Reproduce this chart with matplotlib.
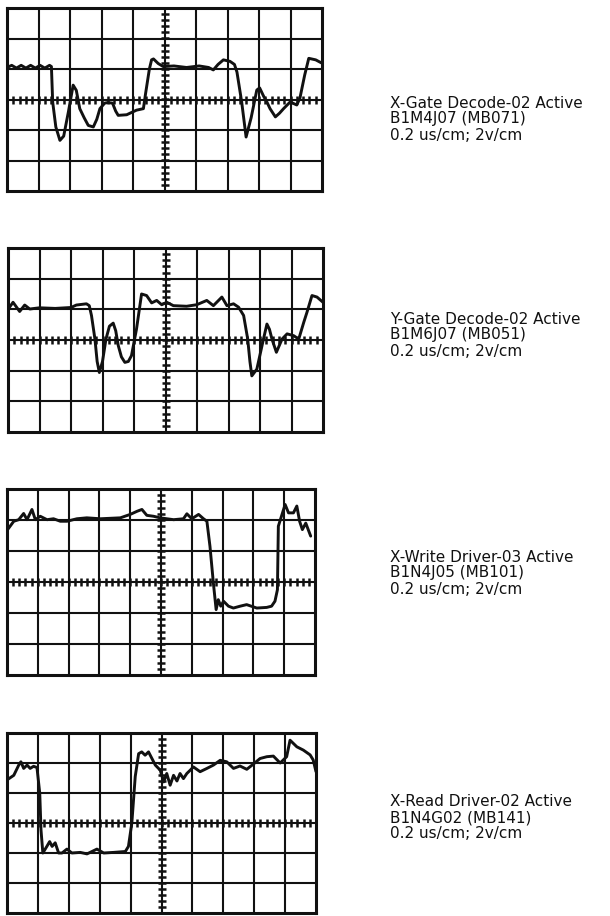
import matplotlib

matplotlib.use("Agg")
import matplotlib.pyplot as plt
import numpy as np

# screen is 10 x 6 divisions; x in div from left edge, y in div from centre line
XGATE_X = [0.0, 0.15, 0.3, 0.45, 0.6, 0.75, 0.9, 1.05, 1.2, 1.35, 1.41, 1.45, 1.55, 1.68, 1.8, 1.95, 2.1,
           2.2, 2.31, 2.45, 2.58, 2.74, 2.85, 2.95, 3.1, 3.2, 3.35, 3.45, 3.53, 3.8, 4.11, 4.33, 4.40,
           4.52, 4.59, 4.65, 4.8, 4.96, 5.3, 5.7, 6.1, 6.4, 6.55, 6.7, 6.87, 7.08, 7.22, 7.3, 7.45,
           7.59, 7.75, 7.93, 8.02, 8.15, 8.25, 8.35, 8.52, 8.65, 8.78, 8.99, 9.2, 9.3, 9.45, 9.58,
           9.8, 10.0]
XGATE_Y = [1.05, 1.12, 1.03, 1.12, 1.03, 1.12, 1.03, 1.12, 1.03, 1.12, 1.08, -0.08, -0.9, -1.34, -1.2,
           -0.4, 0.47, 0.3, -0.3, -0.6, -0.85, -0.9, -0.65, -0.3, -0.12, -0.1, -0.12, -0.38, -0.52,
           -0.5, -0.35, -0.3, 0.2, 1.0, 1.3, 1.33, 1.18, 1.08, 1.1, 1.05, 1.1, 1.05, 0.97, 1.15, 1.3,
           1.25, 1.15, 0.9, -0.08, -1.23, -0.6, 0.31, 0.38, 0.1, -0.08, -0.3, -0.57, -0.45, -0.3,
           -0.08, -0.18, 0.05, 0.8, 1.35, 1.3, 1.19]

YGATE_X = [0.05, 0.16, 0.37, 0.53, 0.69, 1.0, 1.5, 2.0, 2.17, 2.49, 2.58, 2.65, 2.76, 2.83, 2.9, 3.0,
           3.11, 3.22, 3.34, 3.42, 3.5, 3.6, 3.71, 3.82, 3.92, 4.08, 4.24, 4.4, 4.56, 4.72, 4.88,
           5.04, 5.25, 5.67, 5.99, 6.31, 6.52, 6.79, 6.95, 7.16, 7.32, 7.48, 7.61, 7.68, 7.74, 7.9,
           8.11, 8.22, 8.3, 8.38, 8.52, 8.7, 8.86, 9.07, 9.23, 9.39, 9.49, 9.65, 9.81, 10.0]
YGATE_Y = [1.07, 1.23, 0.93, 1.14, 1.01, 1.05, 1.03, 1.06, 1.14, 1.18, 1.12, 0.8, 0.03, -0.7, -1.06,
           -0.7, 0.03, 0.45, 0.55, 0.3, -0.18, -0.55, -0.73, -0.7, -0.51, 0.36, 1.5, 1.45, 1.21,
           1.29, 1.15, 1.23, 1.12, 1.10, 1.15, 1.29, 1.12, 1.4, 1.12, 1.18, 1.07, 0.8, 0.03, -0.7,
           -1.17, -0.95, 0.03, 0.52, 0.35, 0.03, -0.4, 0.03, 0.2, 0.14, 0.03, 0.58, 0.9, 1.45, 1.4,
           1.23]

XWRITE_X = [0.02, 0.22, 0.38, 0.54, 0.65, 0.81, 0.92, 1.08, 1.3, 1.51, 1.73, 1.95, 2.27, 2.59, 3.03,
            3.68, 4.0, 4.22, 4.38, 4.54, 4.76, 4.97, 5.41, 5.73, 5.84, 6.0, 6.22, 6.38, 6.49, 6.59,
            6.7, 6.79, 6.86, 6.94, 7.03, 7.19, 7.35, 7.57, 7.78, 8.11, 8.43, 8.59, 8.7, 8.78, 8.81,
            9.03, 9.14, 9.3, 9.41, 9.5, 9.59, 9.7, 9.86]
XWRITE_Y = [1.69, 1.96, 2.01, 2.21, 2.01, 2.34, 2.01, 2.12, 2.01, 2.04, 1.96, 1.96, 2.04, 2.07, 2.04,
            2.07, 2.18, 2.28, 2.34, 2.15, 2.12, 2.07, 2.01, 2.04, 2.2, 2.04, 2.18, 2.04, 1.96, 1.15,
            -0.03, -0.89, -0.57, -0.78, -0.62, -0.78, -0.84, -0.78, -0.73, -0.84, -0.82, -0.78,
            -0.62, -0.25, 1.8, 2.5, 2.23, 2.23, 2.45, 1.96, 1.69, 1.9, 1.48]

XREAD_X = [0.02, 0.22, 0.38, 0.45, 0.54, 0.65, 0.75, 0.86, 0.97, 1.06, 1.1, 1.16, 1.29, 1.38, 1.46,
           1.56, 1.67, 1.78, 1.94, 2.1, 2.37, 2.59, 2.91, 3.13, 3.45, 3.83, 3.93, 4.04, 4.15, 4.26,
           4.36, 4.47, 4.58, 4.69, 4.8, 4.96, 5.07, 5.17, 5.28, 5.39, 5.5, 5.6, 5.71, 5.82, 5.93,
           6.03, 6.25, 6.47, 6.68, 6.9, 7.11, 7.33, 7.54, 7.76, 7.97, 8.19, 8.41, 8.62, 8.84, 9.05,
           9.16, 9.38, 9.59, 9.81, 9.91, 10.0]
XREAD_Y = [1.45, 1.59, 1.93, 2.04, 1.82, 1.93, 1.82, 1.89, 1.85, 0.99, -0.23, -1.0, -0.78, -0.62, -0.78,
           -0.66, -1.0, -1.0, -0.87, -1.0, -0.98, -1.03, -0.87, -1.0, -0.98, -0.95, -0.78, 0.0, 1.55,
           2.31, 2.37, 2.26, 2.37, 2.15, 1.93, 1.76, 1.37, 1.65, 1.26, 1.59, 1.4, 1.65, 1.48, 1.65,
           1.76, 1.87, 1.71, 1.82, 1.93, 2.09, 2.04, 1.82, 1.9, 1.79, 1.96, 2.15, 2.21, 2.23, 2.0,
           2.21, 2.76, 2.54, 2.43, 2.27, 2.1, 1.71]

TRACES = [(XGATE_X, XGATE_Y), (YGATE_X, YGATE_Y), (XWRITE_X, XWRITE_Y), (XREAD_X, XREAD_Y)]

CAPTIONS = [
    ["X-Gate Decode-02 Active", "B1M4J07 (MB071)", "0.2 us/cm; 2v/cm"],
    ["Y-Gate Decode-02 Active", "B1M6J07 (MB051)", "0.2 us/cm; 2v/cm"],
    ["X-Write Driver-03 Active", "B1N4J05 (MB101)", "0.2 us/cm; 2v/cm"],
    ["X-Read Driver-02 Active", "B1N4G02 (MB141)", "0.2 us/cm; 2v/cm"],
]

W, H = 610, 916
# screen boxes in pixels: left, top, right, bottom
BOXES = [(7, 8, 322, 191), (8, 248, 323, 432), (7, 489, 315, 675), (7, 733, 316, 913)]
CAPTION_Y = [103, 319, 557, 802]

INK = "#111111"


def draw_screen(ax, xs, ys):
    ax.set_xlim(0, 10)
    ax.set_ylim(-3, 3)
    for gx in range(1, 10):
        ax.axvline(gx, color=INK, lw=1.5, zorder=1)
    for gy in range(-2, 3):
        ax.axhline(gy, color=INK, lw=1.5, zorder=1)
    # graticule sub-division marks on the centre lines
    sub = np.arange(0.2, 10, 0.2)
    ax.plot(sub, np.zeros_like(sub), ls="none", marker="|", ms=6, mew=1.8, color=INK, zorder=2)
    subv = np.arange(-2.8, 3, 0.2)
    ax.plot(np.full_like(subv, 5), subv, ls="none", marker="_", ms=6, mew=1.8, color=INK, zorder=2)
    ax.plot(xs, ys, color=INK, lw=2.1, solid_joinstyle="round", solid_capstyle="round", zorder=3)
    ax.set_xticks([])
    ax.set_yticks([])
    for sp in ax.spines.values():
        sp.set_linewidth(2.2)
        sp.set_color(INK)


def main():
    plt.rcParams["font.family"] = ["DejaVu Sans"]
    fig = plt.figure(figsize=(W / 100, H / 100), dpi=100)
    fig.patch.set_facecolor("white")

    for (l, t, r, b), (xs, ys), cap, cy in zip(BOXES, TRACES, CAPTIONS, CAPTION_Y):
        ax = fig.add_axes([l / W, (H - b) / H, (r - l) / W, (b - t) / H])
        draw_screen(ax, xs, ys)
        for i, line in enumerate(cap):
            fig.text(390 / W, 1 - (cy + i * 16) / H, line, ha="left", va="center",
                     fontsize=11, color=INK)

    fig.savefig("out.png", dpi=100, facecolor="white")
    plt.close(fig)


if __name__ == "__main__":
    main()
